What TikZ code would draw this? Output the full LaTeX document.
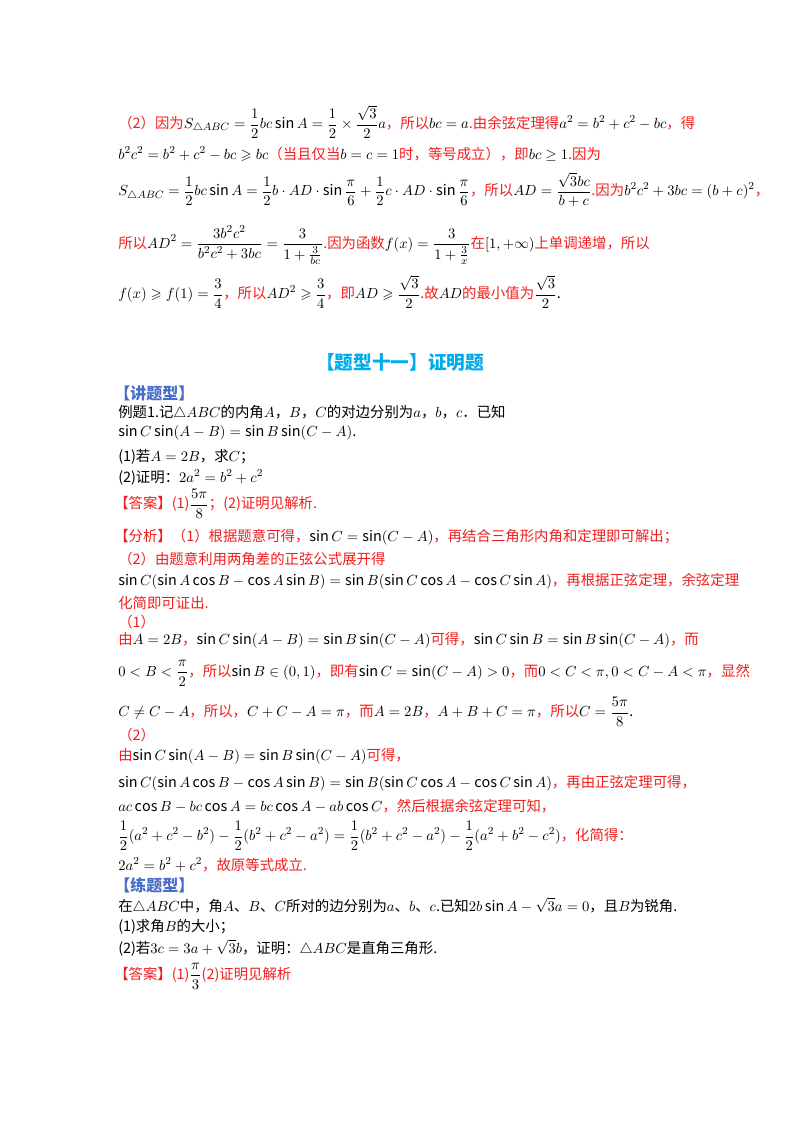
\documentclass[tikz,border=0pt]{standalone}
\usepackage{amsmath,amssymb}
\usepackage{fontspec}
\setmainfont{Noto Sans CJK SC}
\definecolor{ansred}{RGB}{240,30,30}
\definecolor{titleblue}{RGB}{0,170,235}
\definecolor{headblue}{RGB}{70,110,200}
\newcommand{\R}[1]{\textcolor{ansred}{#1}}
\everymath{\displaystyle}
\begin{document}
\begin{tikzpicture}[x=0.75pt,y=-0.75pt,
  line/.style={anchor=west,inner sep=0pt,font=\fontsize{10.8}{12}\selectfont},
  head/.style={line,font=\fontsize{12}{14}\selectfont\bfseries,text=headblue}]
\useasboundingbox (0,0) rectangle (800,1132);
% part (2) of the previous problem
\node[line] (l1) at (118,122) {\R{（2）因为}$S_{\triangle ABC}=\frac12bc\sin A=\frac12\times\frac{\sqrt3}{2}a$\R{，所以}$bc=a$\R{.由余弦定理得}$a^2=b^2+c^2-bc$\R{，得}};
\node[line] (l2) at (118,154) {$b^2c^2=b^2+c^2-bc\geqslant bc$\R{（当且仅当}$b=c=1$\R{时，等号成立），即}$bc\ge1$\R{.因为}};
\node[line] (l3) at (118,190) {$S_{\triangle ABC}=\frac12bc\sin A=\frac12b\cdot AD\cdot\sin\frac{\pi}{6}+\frac12c\cdot AD\cdot\sin\frac{\pi}{6}$\R{，所以}$AD=\frac{\sqrt3bc}{b+c}$\R{.因为}$b^2c^2+3bc=(b+c)^2$\R{，}};
\node[line] (l4) at (118,245) {\R{所以}$AD^2=\frac{3b^2c^2}{b^2c^2+3bc}=\frac{3}{1+\frac{3}{bc}}$\R{.因为函数}$f(x)=\frac{3}{1+\frac{3}{x}}$\R{在}$[1,+\infty)$\R{上单调递增，所以}};
\node[line] (l5) at (118,292) {$f(x)\geqslant f(1)=\frac34$\R{，所以}$AD^2\geqslant\frac34$\R{，即}$AD\geqslant\frac{\sqrt3}{2}$\R{.故}$AD$\R{的最小值为}$\frac{\sqrt3}{2}$.};
% section
\node[line,anchor=center,font=\fontsize{14}{16}\selectfont\bfseries,text=titleblue] (title) at (400,362) {【题型十一】证明题};
\node[head] (jiang) at (114,393) {【讲题型】};
\node[line] (e1) at (118,413) {例题1.记$\triangle ABC$的内角$A$，$B$，$C$的对边分别为$a$，$b$，$c$．已知};
\node[line] (e2) at (118,433) {$\sin C\sin(A-B)=\sin B\sin(C-A)$.};
\node[line] (e3) at (118,457) {(1)若$A=2B$，求$C$；};
\node[line] (e4) at (118,477) {(2)证明：$2a^2=b^2+c^2$};
\node[line] (e5) at (114,504) {\R{【答案】(1)}$\frac{5\pi}{8}$\R{；(2)证明见解析.}};
\node[line] (f1) at (114,537) {\R{【分析】（1）根据题意可得，}$\sin C=\sin(C-A)$\R{，再结合三角形内角和定理即可解出；}};
\node[line] (f2) at (118,559) {\R{（2）由题意利用两角差的正弦公式展开得}};
\node[line] (f3) at (118,581) {$\sin C(\sin A\cos B-\cos A\sin B)=\sin B(\sin C\cos A-\cos C\sin A)$\R{，再根据正弦定理，余弦定理}};
\node[line] (f4) at (118,603) {\R{化简即可证出.}};
\node[line] (f5) at (118,622) {\R{（1）}};
\node[line] (f6) at (118,640) {\R{由}$A=2B$\R{，}$\sin C\sin(A-B)=\sin B\sin(C-A)$\R{可得，}$\sin C\sin B=\sin B\sin(C-A)$\R{，而}};
\node[line] (f7) at (118,673) {$0<B<\frac{\pi}{2}$\R{，所以}$\sin B\in(0,1)$\R{，即有}$\sin C=\sin(C-A)>0$\R{，而}$0<C<\pi,0<C-A<\pi$\R{，显然}};
\node[line] (f8) at (118,712) {$C\ne C-A$\R{，所以，}$C+C-A=\pi$\R{，而}$A=2B$\R{，}$A+B+C=\pi$\R{，所以}$C=\frac{5\pi}{8}$.};
\node[line] (g1) at (118,735) {\R{（2）}};
\node[line] (g2) at (118,756) {\R{由}$\sin C\sin(A-B)=\sin B\sin(C-A)$\R{可得，}};
\node[line] (g3) at (118,783) {$\sin C(\sin A\cos B-\cos A\sin B)=\sin B(\sin C\cos A-\cos C\sin A)$\R{，再由正弦定理可得，}};
\node[line] (g4) at (118,806) {$ac\cos B-bc\cos A=bc\cos A-ab\cos C$\R{，然后根据余弦定理可知，}};
\node[line] (g5) at (118,836) {$\frac12(a^2+c^2-b^2)-\frac12(b^2+c^2-a^2)=\frac12(b^2+c^2-a^2)-\frac12(a^2+b^2-c^2)$\R{，化简得：}};
\node[line] (g6) at (118,865) {$2a^2=b^2+c^2$\R{，故原等式成立.}};
\node[head] (lian) at (114,885) {【练题型】};
\node[line] (p1) at (118,906) {在$\triangle ABC$中，角$A$、$B$、$C$所对的边分别为$a$、$b$、$c$.已知$2b\sin A-\sqrt3a=0$，且$B$为锐角.};
\node[line] (p2) at (118,927) {(1)求角$B$的大小；};
\node[line] (p3) at (118,948) {(2)若$3c=3a+\sqrt3b$，证明：$\triangle ABC$是直角三角形.};
\node[line] (p4) at (114,976) {\R{【答案】(1)}$\frac{\pi}{3}$\R{(2)证明见解析}};
\end{tikzpicture}
\end{document}
